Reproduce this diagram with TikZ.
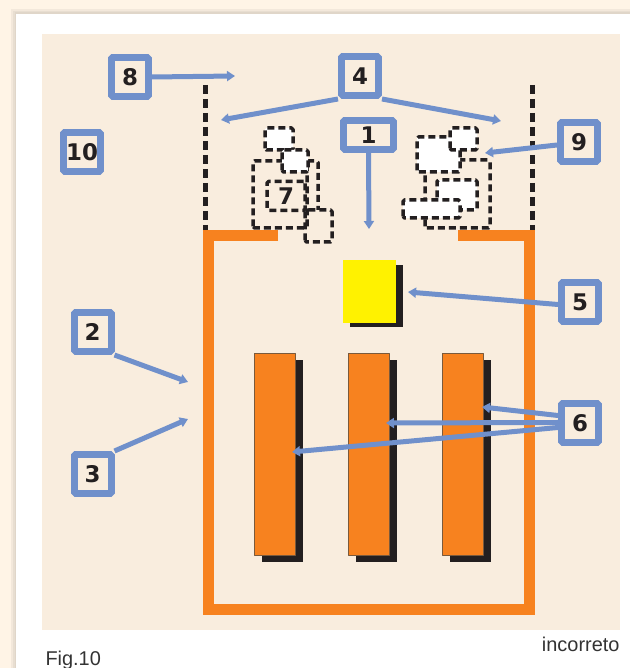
\documentclass[tikz,border=0pt]{standalone}
\usepackage{fontspec}
\setmainfont{Liberation Sans}
\newfontfamily\numfont{DejaVu Sans}
\usepackage{tikz}
\usetikzlibrary{arrows,arrows.meta,shapes}

\begin{document}
\begin{tikzpicture}[>={Triangle[width=10bp,length=8bp]},join=bevel,
  box/.style={draw=cblue,line width=7bp,fill=cpanel,minimum width=37bp,minimum height=39bp,
    inner sep=0pt,text=cdark,font=\numfont\fontsize{23}{26}\selectfont\bfseries},
  ptr/.style={draw=cblue,line width=5bp,->},
  wall/.style={draw=cdark,line width=5bp,dash pattern=on 9bp off 5bp},
  puff/.style={draw=cdark,line width=3.5bp,dash pattern=on 7bp off 4bp,rounded corners=1.5bp},
  bar/.style={fill=corange,draw=cbrown,line width=0.8bp}]
%%
%%
\definecolor{cpage}{HTML}{FFF4E6}%
\definecolor{cshade}{HTML}{D9CFC2}%
\definecolor{cpanel}{HTML}{F9EDDE}%
\definecolor{cblue}{HTML}{7090CB}%
\definecolor{corange}{HTML}{F7821F}%
\definecolor{cbrown}{HTML}{7A5A3C}%
\definecolor{cyellow}{HTML}{FFF200}%
\definecolor{cdark}{HTML}{231F20}%
\definecolor{ctext}{HTML}{333333}%
%
\useasboundingbox (0bp,0bp) rectangle (630bp,668bp);
\begin{scope}
  \fill[cpage] (0bp,0bp) rectangle (630bp,668bp);
  \fill[cshade,opacity=0.3] (11bp,0bp) rectangle (630bp,659bp);
  \fill[cshade,opacity=0.4] (13bp,0bp) rectangle (630bp,657bp);
  \fill[cshade,opacity=0.5] (15bp,0bp) rectangle (630bp,656bp);
  \fill[white] (16bp,0bp) rectangle (630bp,654bp);
  \fill[cpanel] (42bp,38bp) rectangle (620bp,634bp);
\end{scope}
%
\begin{scope}
  \draw[wall] (205bp,583bp) -- (205bp,438bp);
  \draw[wall] (532bp,583bp) -- (532bp,438bp);
  \draw[corange,line width=11bp,line join=miter] (278bp,432bp) -- (208.5bp,432bp) -- (208.5bp,58.5bp)
    -- (529.5bp,58.5bp) -- (529.5bp,432bp) -- (458bp,432bp);
\end{scope}
%
  \fill[cdark] (350bp,341bp) rectangle (403bp,403bp);
  \fill[cyellow] (343bp,345bp) rectangle (396bp,408bp);
%
\foreach \x in {254,348,442} {
  \fill[cdark] ({(\x+8)*1bp},106bp) rectangle ({(\x+49)*1bp},308bp);
  \filldraw[bar] (\x bp,113bp) rectangle ({(\x+41)*1bp},315bp);
}
%
%% left cluster
  \draw[puff] (253bp,440bp) rectangle (307bp,507bp);
  \draw[puff] (307bp,507bp) -- (318bp,507bp) -- (318bp,458bp);
  \draw[puff] (305bp,426bp) rectangle (332bp,458bp);
  \filldraw[puff,fill=white] (265bp,518bp) rectangle (293bp,540bp);
  \filldraw[puff,fill=white] (282bp,496bp) rectangle (308bp,518bp);
%% right cluster
  \draw[puff] (425bp,440bp) rectangle (490bp,508bp);
  \filldraw[puff,fill=white] (417bp,496bp) rectangle (460bp,531bp);
  \filldraw[puff,fill=white] (450bp,518bp) rectangle (477bp,540bp);
  \filldraw[puff,fill=white] (437bp,458bp) rectangle (477bp,488bp);
  \filldraw[puff,fill=white] (403bp,450bp) rectangle (460bp,468bp);
%
  \node (n7) at (286bp,472bp) [puff,minimum width=38bp,minimum height=29bp,inner sep=0pt,
    text=cdark,font=\numfont\fontsize{23}{26}\selectfont\bfseries] {7};
%
  \node (n8) at (130bp,591bp) [box] {8};
  \node (n4) at (360bp,592bp) [box] {4};
  \node (n10) at (82bp,516bp) [box] {10};
  \node (n1) at (368.5bp,533bp) [box,minimum width=50bp,minimum height=29bp] {1};
  \node (n9) at (579bp,526bp) [box] {9};
  \node (n2) at (92.5bp,336bp) [box] {2};
  \node (n5) at (580bp,365.5bp) [box] {5};
  \node (n6) at (580bp,244.5bp) [box] {6};
  \node (n3) at (92.5bp,194bp) [box] {3};
%
  \coordinate (t8) at (235bp,592bp);
  \coordinate (t4a) at (221bp,548bp);
  \coordinate (t4b) at (501bp,547bp);
  \coordinate (t1) at (369bp,439bp);
  \coordinate (t9) at (485bp,515bp);
  \coordinate (t5) at (408bp,376bp);
  \coordinate (t6a) at (482bp,261bp);
  \coordinate (t6b) at (386bp,245bp);
  \coordinate (t6c) at (292bp,216bp);
  \coordinate (t2) at (188bp,286bp);
  \coordinate (t3) at (188bp,249bp);
%
  \draw[ptr] (n8.east) -- (t8);
  \draw[ptr] (n4.south west) -- (t4a);
  \draw[ptr] (n4.south east) -- (t4b);
  \draw[ptr] (n1.south) -- (t1);
  \draw[ptr] ([yshift=-3bp]n9.west) -- (t9);
  \draw[ptr] ([yshift=-2bp]n5.west) -- (t5);
  \draw[ptr] ([yshift=8bp]n6.west) -- (t6a);
  \draw[ptr] ([yshift=1bp]n6.west) -- (t6b);
  \draw[ptr] ([yshift=-4bp]n6.west) -- (t6c);
  \draw[ptr] (n2.south east) -- (t2);
  \draw[ptr] (n3.north east) -- (t3);
%
  \node (fig) at (42bp,3bp) [anchor=base west,text=ctext,font=\fontsize{20}{24}\selectfont] {Fig.10};
  \node (verdict) at (623bp,17bp) [anchor=base east,text=ctext,font=\fontsize{20}{24}\selectfont] {incorreto};
%
\end{tikzpicture}
\end{document}
